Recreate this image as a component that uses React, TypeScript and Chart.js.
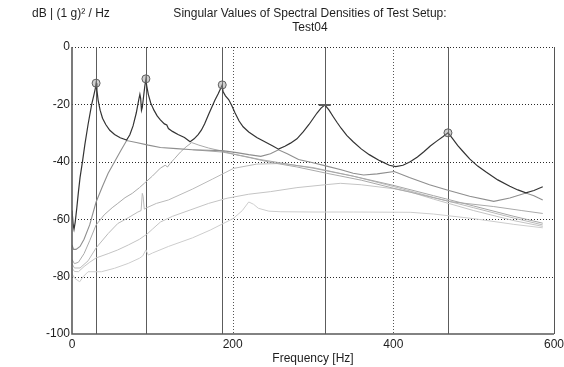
import React, { useEffect, useRef } from "react";
import { Chart, registerables } from "chart.js";

Chart.register(...registerables);

const FONT = "'Liberation Sans', Arial, Helvetica, sans-serif";

const titleLines = ["Singular Values of Spectral Densities of Test Setup:", "Test04"];
const unitLabel = "dB | (1 g)\u00B2 / Hz";
const xAxisTitle = "Frequency [Hz]";

const xGridValues = [200, 400];
const yGridValues = [0, -20, -40, -60, -80];

// Peaks of the first singular value
const peakFreqs = [30, 92, 187, 314.6, 468];
const peakDb = [-12.6, -11.1, -13.2, -20.2, -29.9];
const peakStyles = ["circle", "circle", "circle", "line", "circle"];

// SV1 (dark)
const sv1Freq = [0, 1.5, 2.5, 4, 6, 8, 10, 13, 16, 20, 24.5, 27, 29, 30, 31, 32.5, 35, 38, 42, 47, 53, 60, 68, 72, 76, 80, 83, 84.5, 85.5, 86.5, 87.5, 89, 90.5, 92, 93, 95, 98, 102, 106, 110, 115, 118, 120, 125, 132, 140, 147, 152, 157, 161, 165, 170, 174, 178, 182, 185, 187, 188, 191, 195, 199, 203, 208, 213, 220, 230, 240, 250, 257, 265, 272, 280, 288, 295, 300, 305, 310, 314.6, 316, 320, 325, 330, 335, 342, 350, 360, 370, 383, 395, 403, 412, 421, 430, 438, 446, 454, 462, 468, 470, 474, 480, 487, 495, 505, 515, 530, 545, 555, 565, 575, 586];
const sv1Db = [-57, -62, -63.5, -61, -56, -50.5, -45.5, -40, -34, -27, -20, -17, -14.5, -12.6, -15, -18.5, -22, -24.8, -27, -29, -30.5, -31.6, -32.4, -30.6, -27.5, -23, -18.5, -16.5, -18, -22, -21, -17.5, -14, -11.1, -13.5, -16.5, -19.5, -22, -24, -25.4, -26.8, -27.2, -28.4, -29.4, -30.5, -31.5, -33, -32, -30.5, -29, -26.8, -23.5, -21, -18.5, -16.3, -14.5, -13.2, -15.5, -17, -18.3, -20.5, -23, -25.8, -27.8, -29.6, -31.5, -33, -34.5, -35.6, -34.6, -33.5, -32, -29.5, -27, -25, -23, -21.3, -20.2, -20.6, -22, -24.2, -26.3, -28.3, -30.8, -33, -35.5, -37.5, -39.6, -41.2, -41.7, -41.2, -40, -38.3, -36.5, -34.5, -32.8, -31.2, -29.9, -30.5, -32, -34.3, -36.5, -39, -41.5, -43.5, -46.3, -48.5, -49.8, -50.8, -50, -48.7];

// SV2 path (touching SV1 at its minima)
const sv2Freq = [0, 2, 5, 10, 15, 22, 30, 38, 45, 53, 61, 68, 80, 95, 110, 130, 150, 170, 187, 205, 220, 235, 247, 257, 268, 282, 300, 317, 335, 350, 363, 380, 401, 420, 445, 467, 495, 525, 545, 565, 575, 586];
const sv2Db = [-69, -70.5, -70.5, -69.5, -67, -62, -54, -48.5, -44, -40, -36, -32.6, -33.3, -34.2, -35, -35.4, -35.8, -36, -36.1, -36.8, -37.5, -38.1, -37.2, -35.8, -37.2, -39.2, -40.3, -41.5, -42.8, -44, -44.6, -44.2, -43.4, -45.5, -48, -49.8, -52, -53.8, -52.6, -50.9, -51.8, -53.3];

// background line splitting off after 150 Hz
const sv3Freq = [150, 187, 210, 234, 260, 300, 350, 400, 450, 500, 550, 586];
const sv3Db = [-35.8, -36.6, -37.8, -39.2, -40.4, -42.2, -45, -48.2, -51.8, -55.4, -59, -61.4];

// rising line touching SV1 near 149 Hz
const sv4Freq = [0, 3, 8, 15, 22, 30, 40, 50, 57, 66, 75, 84, 90, 100, 110, 116, 119, 122, 128, 135, 142, 149, 158, 170, 187, 205, 222, 247, 280, 317, 360, 400, 471, 525, 560, 586];
const sv4Db = [-74, -75.5, -75, -72, -67.5, -62, -58.5, -56, -54.5, -52.5, -51, -49, -47.5, -45, -42.2, -41.2, -41.8, -40.6, -38.8, -36.6, -34.8, -33.3, -34.2, -35.2, -36.3, -37.6, -38.6, -40.2, -41.8, -44, -46.4, -49.2, -53.9, -55.6, -57, -58];

// line with the spike near 88 Hz
const sv5Freq = [0, 3, 10, 20, 30, 45, 57, 70, 82, 86, 87.5, 88.5, 90, 93, 105, 120, 150, 175, 201, 230, 260, 300, 350, 400, 450, 500, 550, 586];
const sv5Db = [-75.5, -77, -77, -74.5, -70, -65, -61.5, -59.5, -57.5, -57, -51, -52, -56.5, -56, -54.5, -53.3, -49.5, -46, -42.3, -40.8, -40.6, -42, -45, -48.6, -52.4, -56, -59.6, -62];

const sv6Freq = [0, 3, 8, 15, 22, 30, 45, 57, 70, 84, 90, 93, 100, 110, 125, 147, 170, 193, 220, 247, 280, 315, 334, 360, 401, 421, 450, 500, 550, 586];
const sv6Db = [-77, -78.2, -78.3, -76.5, -75, -73.5, -72, -70.7, -69, -67, -65.8, -65.3, -63.5, -61, -59, -56.8, -54.5, -52.7, -51.3, -50.4, -49, -48, -47.5, -48, -49.4, -50.5, -53, -57, -60.5, -62.5];

const sv7Freq = [0, 3.4, 9.6, 14, 20, 36.6, 53, 70, 84, 88, 92, 95, 100, 120, 150, 172, 201, 212, 220, 226, 232, 245, 260, 300, 350, 421, 450, 500, 550, 586];
const sv7Db = [-79, -80.6, -81.8, -80, -78.3, -78.3, -77.1, -75.4, -73.6, -72.8, -70.7, -72.5, -71.8, -69.5, -66.5, -63.8, -59.7, -57, -54, -54.8, -56.2, -57.2, -57.4, -57.5, -57.5, -57.6, -58.2, -59.8, -61.8, -63];

const zip = (xs: number[], ys: number[]) => xs.map((x, i) => ({ x, y: ys[i] }));

const framePlugin = {
  id: "framePlugin",
  beforeDatasetsDraw(chart: any) {
    const { ctx, chartArea, scales } = chart;
    const { left, right, top, bottom } = chartArea;
    ctx.save();
    ctx.strokeStyle = "#2a2a2a";
    ctx.lineWidth = 1;
    ctx.setLineDash([1, 2]);
    for (const v of yGridValues) {
      const py = Math.round(scales.y.getPixelForValue(v)) + 0.5;
      ctx.beginPath();
      ctx.moveTo(left, py);
      ctx.lineTo(right, py);
      ctx.stroke();
    }
    ctx.strokeStyle = "#555";
    for (const v of xGridValues) {
      const px = Math.round(scales.x.getPixelForValue(v)) + 0.5;
      ctx.beginPath();
      ctx.moveTo(px, top);
      ctx.lineTo(px, bottom);
      ctx.stroke();
    }
    // solid vertical lines at the peak frequencies
    ctx.setLineDash([]);
    ctx.strokeStyle = "#5c5c5c";
    for (const f of peakFreqs) {
      const px = Math.round(scales.x.getPixelForValue(f)) + 0.5;
      ctx.beginPath();
      ctx.moveTo(px, top);
      ctx.lineTo(px, bottom);
      ctx.stroke();
    }
    ctx.restore();
  },
  afterDatasetsDraw(chart: any) {
    const { ctx, chartArea } = chart;
    const { left, right, top, bottom } = chartArea;
    ctx.save();
    ctx.setLineDash([]);
    ctx.strokeStyle = "#555";
    ctx.lineWidth = 1;
    ctx.beginPath();
    ctx.moveTo(Math.round(right) + 0.5, top);
    ctx.lineTo(Math.round(right) + 0.5, bottom);
    ctx.stroke();
    ctx.strokeStyle = "#5a5a5a";
    ctx.lineWidth = 1.6;
    ctx.beginPath();
    ctx.moveTo(left, top);
    ctx.lineTo(left, bottom);
    ctx.lineTo(right, bottom);
    ctx.stroke();
    ctx.restore();
  },
  afterDraw(chart: any) {
    const { ctx, chartArea } = chart;
    const cx = (chartArea.left + chartArea.right) / 2;
    ctx.save();
    ctx.fillStyle = "#1e1e1e";
    ctx.font = `12px ${FONT}`;
    ctx.textAlign = "center";
    ctx.textBaseline = "middle";
    ctx.fillText(titleLines[0], cx - 3, 14);
    ctx.fillText(titleLines[1], cx - 3, 28);
    ctx.textAlign = "left";
    ctx.fillText(unitLabel, 32, 14);
    ctx.restore();
  },
};

export default function App() {
  const ref = useRef<HTMLCanvasElement | null>(null);
  useEffect(() => {
    document.body.style.margin = "0";
    if (!ref.current) return;
    const line = (data: any, color: string, width: number) => ({
      data,
      borderColor: color,
      borderWidth: width,
      pointRadius: 0,
      tension: 0,
      fill: false,
    });
    const datasets: any[] = [
      {
        data: zip(peakFreqs, peakDb),
        showLine: false,
        pointStyle: peakStyles,
        pointRadius: peakStyles.map((s) => (s === "line" ? 6 : 4)),
        pointBorderWidth: peakStyles.map((s) => (s === "line" ? 2 : 1)),
        pointBorderColor: "#5e5e5e",
        pointBackgroundColor: "rgba(150,150,150,0.45)",
      },
      line(zip(sv1Freq, sv1Db), "#333333", 1.2),
      line(zip(sv2Freq, sv2Db), "#8e8e8e", 1.1),
      line(zip(sv3Freq, sv3Db), "#a6a6a6", 1),
      line(zip(sv4Freq, sv4Db), "#aaaaaa", 1),
      line(zip(sv5Freq, sv5Db), "#bababa", 1),
      line(zip(sv6Freq, sv6Db), "#c4c4c4", 1),
      line(zip(sv7Freq, sv7Db), "#cdcdcd", 1),
    ];
    const chart = new Chart(ref.current, {
      type: "line",
      data: { datasets },
      plugins: [framePlugin],
      options: {
        animation: false,
        responsive: false,
        events: [],
        layout: { padding: { top: 47, right: 10, left: 0, bottom: 0 } },
        plugins: { legend: { display: false }, tooltip: { enabled: false }, title: { display: false } },
        scales: {
          x: {
            type: "linear",
            min: 0,
            max: 600,
            grid: { display: false, drawTicks: false },
            border: { display: false },
            ticks: { stepSize: 200, color: "#1e1e1e", font: { size: 12, family: FONT }, padding: 3, maxRotation: 0 },
            title: { display: true, text: xAxisTitle, color: "#1e1e1e", font: { size: 12, family: FONT }, padding: { top: 0, bottom: 1 } },
            afterFit: (s: any) => {
              s.height = 33;
              s.paddingLeft = 0;
              s.paddingRight = 0;
            },
          },
          y: {
            type: "linear",
            min: -100,
            max: 0,
            grid: { display: false, drawTicks: false },
            border: { display: false },
            ticks: { stepSize: 20, color: "#1e1e1e", font: { size: 12, family: FONT }, padding: 2 },
            afterFit: (s: any) => {
              s.width = 72;
              s.paddingTop = 0;
              s.paddingBottom = 0;
            },
          },
        },
      },
    });
    return () => chart.destroy();
  }, []);
  return (
    <div style={{ width: 564, height: 367, background: "#fff" }}>
      <canvas ref={ref} width={564} height={367} />
    </div>
  );
}
